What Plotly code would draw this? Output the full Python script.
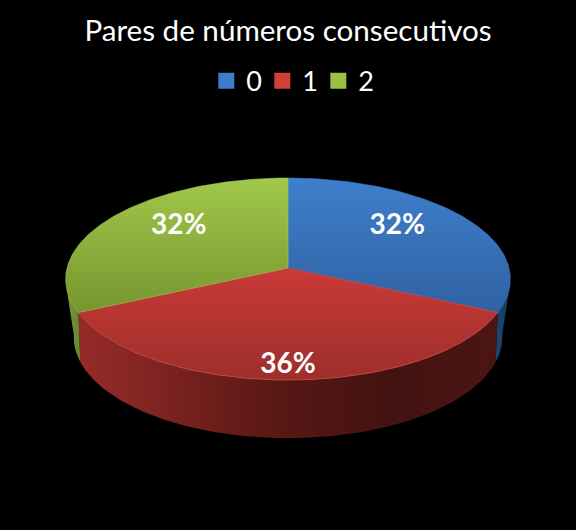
import numpy as np
import plotly.graph_objects as go

# datos del grafico
categorias = ["0", "1", "2"]
porcentajes = [32, 36, 32]
etiquetas = ["32%", "36%", "32%"]

colores_sup = [["#3f7fcb", "#2f62a3"], ["#c93a37", "#9e2e2b"], ["#a0c84a", "#76962f"]]
colores_borde = ["rgba(63,127,203,0.6)", "#c44a45", "rgba(168,204,92,0.55)"]
colores_lado = [
    [[0, "#1d4672"], [1, "#163a60"]],
    [[0, "#962c29"], [0.3, "#701f1c"], [0.5, "#561715"], [0.75, "#431311"], [1, "#4c1512"]],
    [[0, "#78983a"], [1, "#688430"]],
]
colores_leyenda = ["#3d7cc8", "#cf3f3c", "#9cc044"]

# geometria del disco con perspectiva simple
cx, cy = 288, 268
radio, alto, k = 221, 99.8, 0.109
cy_base, alto_base, radio_base, k_base = 317, 96.9, 210, 0.2
fuente = "Lato"


def proyectar(theta, c_y, h, r, kp):
    u, v = np.sin(theta), -np.cos(theta)
    s = 1 / (1 - kp * v)
    return cx + r * u * s, c_y + h * v * s


fig = go.Figure()

cortes = np.cumsum([0] + porcentajes) / sum(porcentajes) * 2 * np.pi
visible_ini, visible_fin = np.radians(100), np.radians(260)

# laterales
for i in range(3):
    ini, fin = max(cortes[i], visible_ini), min(cortes[i + 1], visible_fin)
    th = np.linspace(ini, fin, 120)
    xs, ys = proyectar(th, cy, alto, radio, k)
    xb, yb = proyectar(th[::-1], cy_base, alto_base, radio_base, k_base)
    fig.add_trace(go.Scatter(
        x=np.r_[xs, xb], y=np.r_[ys, yb], mode="lines", fill="toself",
        line=dict(width=0), hoverinfo="skip", showlegend=False,
        fillgradient=dict(type="horizontal", colorscale=colores_lado[i]),
    ))

# caras superiores
for i in range(3):
    th = np.linspace(cortes[i], cortes[i + 1], 160)
    xs, ys = proyectar(th, cy, alto, radio, k)
    fig.add_trace(go.Scatter(
        x=np.r_[cx, xs, cx], y=np.r_[cy, ys, cy], mode="lines", fill="toself",
        line=dict(width=1, color=colores_borde[i]), hoverinfo="skip", showlegend=False,
        fillgradient=dict(type="vertical", colorscale=[[0, colores_sup[i][1]], [1, colores_sup[i][0]]]),
    ))

# etiquetas
medios = (cortes[:-1] + cortes[1:]) / 2
xm, ym = proyectar(medios, cy, alto, radio, k)
fig.add_trace(go.Scatter(
    x=cx + (xm - cx) * 0.62, y=cy + (ym - cy) * 0.86 + 2, mode="text", text=etiquetas,
    textposition="middle center", hoverinfo="skip", showlegend=False,
    textfont=dict(family=fuente, size=28, color="white", weight="bold"),
))

# leyenda
for i, nombre in enumerate(categorias):
    fig.add_trace(go.Scatter(
        x=[None], y=[None], mode="markers", name=nombre,
        marker=dict(symbol="square", size=16, color=colores_leyenda[i]),
    ))

fig.update_layout(
    width=576, height=530,
    margin=dict(l=0, r=0, t=0, b=0),
    paper_bgcolor="black", plot_bgcolor="black",
    title=dict(text="Pares de números consecutivos", x=0.5, xanchor="center",
               y=0.942, yanchor="middle",
               font=dict(family=fuente, size=29.6, color="white")),
    legend=dict(orientation="h", x=0.504, xanchor="center", y=0.847, yanchor="middle",
                font=dict(family=fuente, size=27, color="white"),
                bgcolor="rgba(0,0,0,0)", itemwidth=30, entrywidth=11),
    xaxis=dict(visible=False, range=[0, 576], fixedrange=True),
    yaxis=dict(visible=False, range=[530, 0], fixedrange=True),
)

# quitar margen del body y ligaduras
fig.write_html(
    "out.html",
    config={"displayModeBar": False},
    post_script="document.body.style.margin='0';"
                "document.body.style.background='black';"
                "document.body.style.fontVariantLigatures='none';",
)
